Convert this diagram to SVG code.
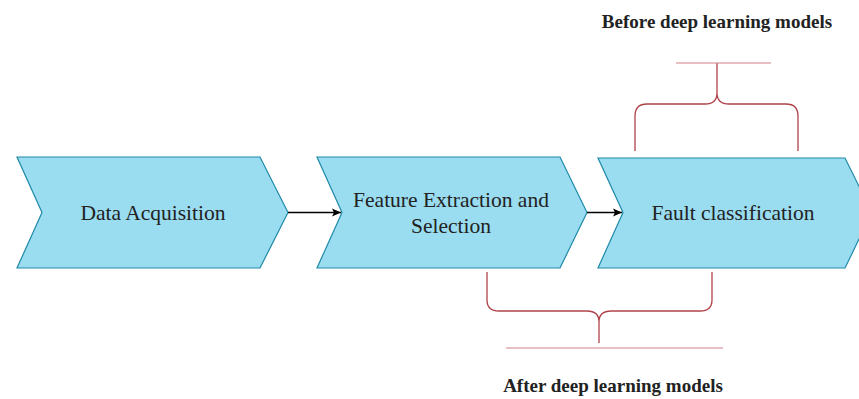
<svg xmlns="http://www.w3.org/2000/svg" width="859" height="399" viewBox="0 0 859 399">
<style>
.shape{fill:#9adcf0;stroke:#1f8aa8;stroke-width:1.2}
.lbl{font-family:"Liberation Serif","Times New Roman",serif;font-size:21.5px;fill:#222;text-anchor:middle}
.cap{font-family:"Liberation Serif","Times New Roman",serif;font-size:19px;font-weight:bold;fill:#222;text-anchor:middle}
.br{fill:none;stroke:#b0424a;stroke-width:1.3}
.ln{fill:none;stroke:#d08088;stroke-width:1}
.conn{fill:none;stroke:#000;stroke-width:1.3}
</style>
<defs>
<marker id="ah" markerWidth="10" markerHeight="10" refX="9" refY="5" orient="auto" markerUnits="userSpaceOnUse">
<path d="M0,1 L9,5 L0,9 L2,5 Z" fill="#000"/>
</marker>
</defs>
<rect width="859" height="399" fill="#fff"/>
<g id="node-data">
<polygon class="shape" points="17,157 260,157 288,212.5 260,268 17,268 42,212.5"/>
<text class="lbl" x="153" y="220">Data Acquisition</text>
</g>
<g id="node-feature">
<polygon class="shape" points="317,157 560,157 587,212.5 560,268 317,268 342,212.5"/>
<text class="lbl" x="451" y="207">Feature Extraction and</text>
<text class="lbl" x="451" y="233">Selection</text>
</g>
<g id="node-fault">
<polygon class="shape" points="598,158 845,158 872,212.5 845,268 598,268 623,212.5"/>
<text class="lbl" x="733" y="220">Fault classification</text>
</g>
<g id="connectors">
<line class="conn" x1="288" y1="212.5" x2="341" y2="212.5" marker-end="url(#ah)"/>
<line class="conn" x1="587" y1="212.5" x2="622" y2="212.5" marker-end="url(#ah)"/>
</g>
<g id="brace-before">
<path class="br" d="M635,151 L635,116 Q635,104 647,104 L705,104 Q717,104 717,93 L717,63 M717,93 Q717,104 729,104 L786,104 Q798,104 798,116 L798,151"/>
<line class="ln" x1="676" y1="63" x2="771" y2="63"/>
<text class="cap" x="717" y="28">Before deep learning models</text>
</g>
<g id="brace-after">
<path class="br" d="M487,272 L487,300 Q487,311 499,311 L587,311 Q599,311 599,322 L599,343 M599,322 Q599,311 611,311 L700,311 Q712,311 712,300 L712,272"/>
<line class="ln" x1="506" y1="348" x2="723" y2="348"/>
<text class="cap" x="613" y="392">After deep learning models</text>
</g>
</svg>
